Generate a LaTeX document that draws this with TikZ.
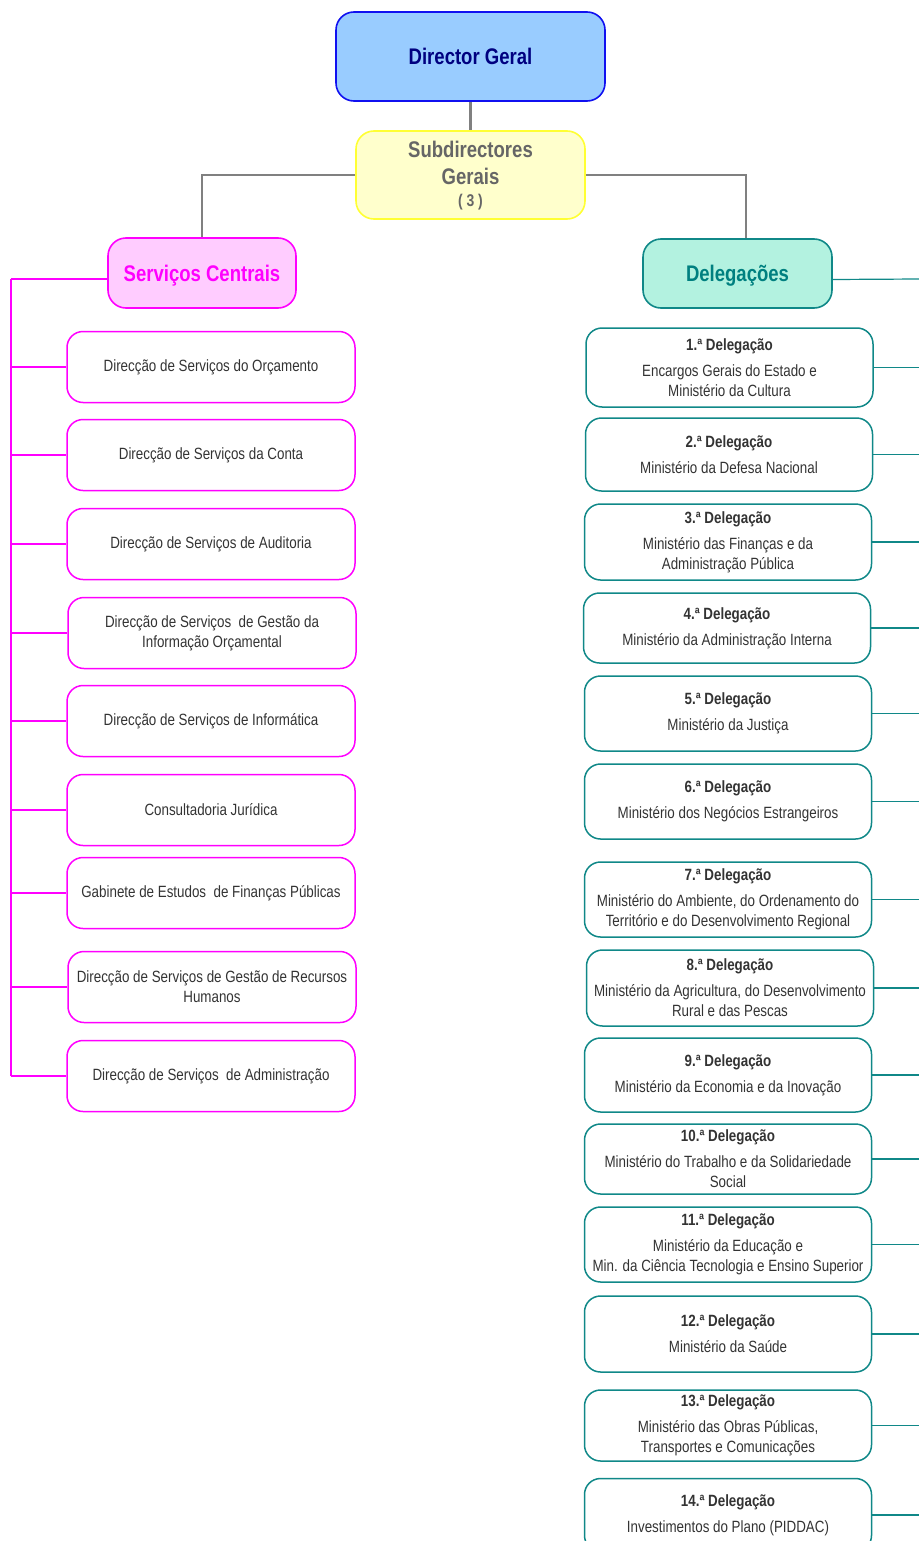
\documentclass[tikz,border=0pt]{standalone}
\usepackage{fontspec}
\setmainfont{Liberation Sans}[FakeStretch=0.82]
\usetikzlibrary{positioning}

\definecolor{dgfill}{HTML}{99CCFF}
\definecolor{dgline}{HTML}{1010F0}
\definecolor{dgtext}{HTML}{000080}
\definecolor{subfill}{HTML}{FFFFCC}
\definecolor{subline}{HTML}{FFFF33}
\definecolor{subtext}{HTML}{666666}
\definecolor{scfill}{HTML}{FFCCFF}
\definecolor{scline}{HTML}{FF00FF}
\definecolor{delfill}{HTML}{B3F2E0}
\definecolor{delline}{HTML}{108888}
\definecolor{deltext}{HTML}{008080}
\definecolor{boxtext}{HTML}{333333}
\definecolor{conline}{HTML}{808080}

\tikzset{
    headbox/.style={draw, rounded corners=9pt, line width=0.8pt, align=center, inner sep=0pt},
    scbox/.style={draw=scline, rounded corners=8pt, line width=0.75pt, minimum width=144pt,
        minimum height=35.5pt, align=center, text=boxtext, inner sep=0pt,
        font=\fontsize{8.15}{10}\selectfont},
    delbox/.style={draw=delline, rounded corners=8pt, line width=0.75pt, minimum width=143.5pt,
        align=center, text=boxtext, inner sep=0pt, font=\fontsize{8.15}{10}\selectfont},
    sclink/.style={draw=scline, line width=0.6pt},
    dellink/.style={draw=delline, line width=0.6pt},
    graylink/.style={draw=conline, line width=0.6pt}
}

\begin{document}
\begin{tikzpicture}[x=0.5pt,y=-0.5pt]
    \clip (0,0) rectangle (919,1541);

    % Top of the chart
    \node[headbox, draw=dgline, fill=dgfill, text=dgtext, minimum width=134.5pt, minimum height=44.5pt,
        font=\fontsize{11.3}{13}\selectfont\bfseries] (dg) at (470.5,56.5) {Director Geral};
    \node[headbox, draw=subline, fill=subfill, text=subtext, minimum width=114.5pt, minimum height=44pt,
        font=\fontsize{11.3}{13.5}\selectfont\bfseries] (sub) at (470.5,175)
        {\rule{0pt}{9pt}Subdirectores\\Gerais\\[-2.5pt]{\fontsize{8.5}{9}\selectfont ( 3 )}};
    \draw[draw=conline, line width=1.5pt] (dg) -- (sub);

    % Two branches
    \node[headbox, draw=scline, fill=scfill, text=scline, minimum width=94pt, minimum height=35pt,
        text depth=0pt, font=\fontsize{11.3}{13}\selectfont\bfseries] (sc) at (202,273) {Serviços Centrais};
    \node[headbox, draw=delline, fill=delfill, text=deltext, minimum width=94.5pt, minimum height=34.5pt,
        text depth=0pt, font=\fontsize{11.3}{13}\selectfont\bfseries] (del) at (737.5,273.5) {Delegações};
    \draw[graylink] (sub.west) -| (sc.north);
    \draw[graylink] (sub.east) -| ([xshift=4.25pt]del.north);

    % Serviços Centrais
    \coordinate (rail) at (11,279);
    \draw[sclink] ([yshift=-3pt]sc.west) -- (rail);
    \foreach \i/\x/\y/\txt in {
        1/211/367/{Direcção de Serviços do Orçamento},
        2/211/455/{Direcção de Serviços da Conta},
        3/211/544/{Direcção de Serviços de Auditoria},
        4/212/633/{Direcção de Serviços\ \ de Gestão da\\Informação Orçamental},
        5/211/721/{Direcção de Serviços de Informática},
        6/211/810/{Consultadoria Jurídica},
        7/211/893/{Gabinete de Estudos\ \ de Finanças Públicas},
        8/212/987/{Direcção de Serviços de Gestão de Recursos\\Humanos},
        9/211/1076/{Direcção de Serviços\ \ de Administração}} {
        \node[scbox] (sc\i) at (\x,\y) {\txt};
        \draw[sclink] (sc\i.west) -- (sc\i.west -| rail);
    }
    \draw[sclink] (rail) -- (rail |- sc9.west);

    % Delegações
    \coordinate (rr) at (919,279);
    \draw[dellink] ([yshift=-3pt]del.east) -- (rr);
    \foreach \i/\x/\y/\h/\txt in {
        1/729.5/367.5/79/{Encargos Gerais do Estado e\\Ministério da Cultura},
        2/729/454.5/73/{Ministério da Defesa Nacional},
        3/728/542/76/{Ministério das Finanças e da\\Administração Pública},
        4/727/628/70/{Ministério da Administração Interna},
        5/728/713.5/75/{Ministério da Justiça},
        6/728/801.5/75/{Ministério dos Negócios Estrangeiros},
        7/728/899.5/75/{Ministério do Ambiente, do Ordenamento do\\Território e do Desenvolvimento Regional},
        8/730/988/76/{Ministério da Agricultura, do Desenvolvimento\\Rural e das Pescas},
        9/728/1075/74/{Ministério da Economia e da Inovação},
        10/728/1159/70/{Ministério do Trabalho e da Solidariedade\\Social},
        11/728/1244.5/75/{Ministério da Educação e\\Min. da Ciência Tecnologia e Ensino Superior},
        12/728/1334/76/{Ministério da Saúde},
        13/728/1425.5/71/{Ministério das Obras Públicas,\\Transportes e Comunicações},
        14/728/1515/73/{Investimentos do Plano (PIDDAC)}} {
        \node[delbox, minimum height=\h*0.5pt] (del\i) at (\x,\y)
            {{\bfseries \i.ª Delegação}\\[3pt]\txt};
        \draw[dellink] (del\i.east) -- (del\i.east -| rr);
    }
\end{tikzpicture}
\end{document}
